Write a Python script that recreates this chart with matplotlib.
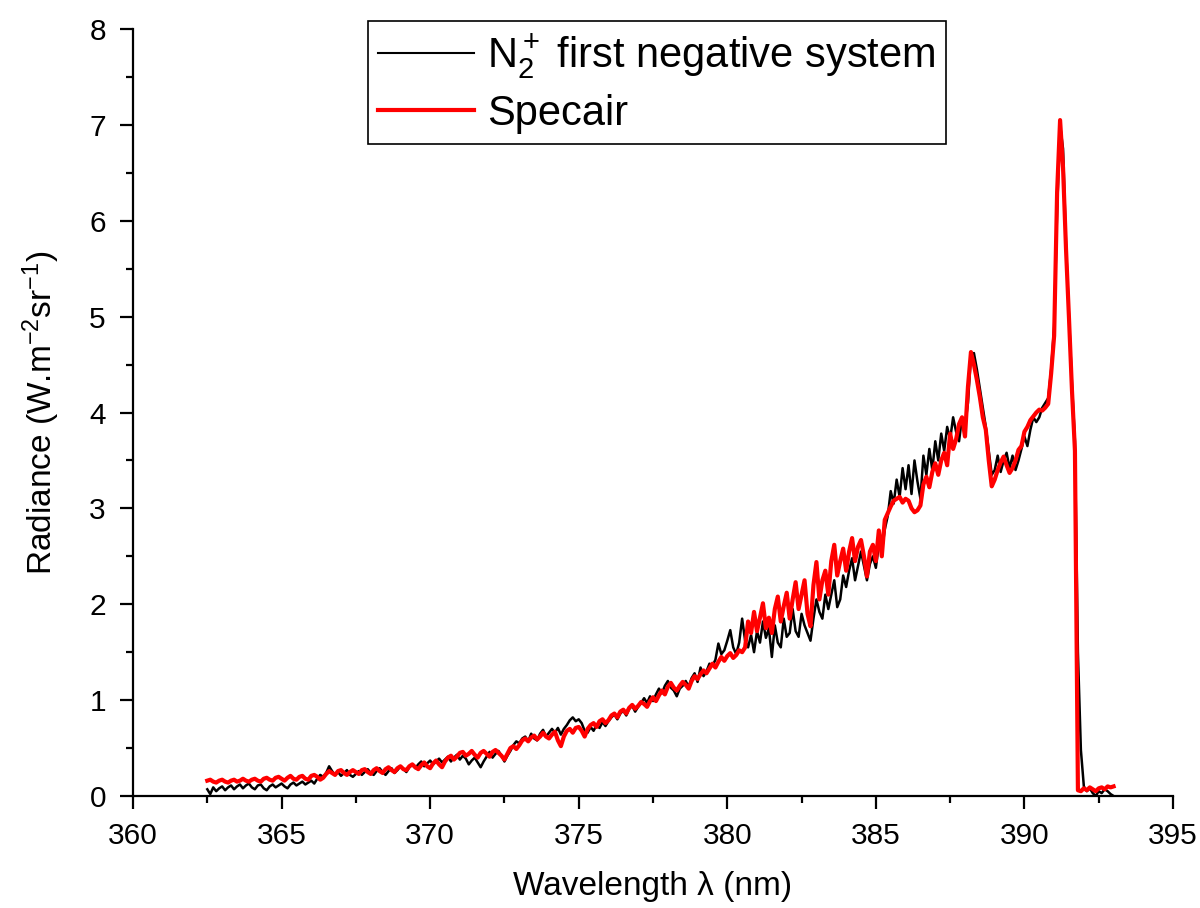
#!/usr/bin/env python3
import numpy as np
import matplotlib
matplotlib.use("Agg")
import matplotlib.pyplot as plt
from matplotlib.ticker import MultipleLocator

plt.rcParams['font.family'] = ['Liberation Sans', 'DejaVu Sans']
plt.rcParams['mathtext.fontset'] = 'custom'
plt.rcParams['mathtext.rm'] = 'Liberation Sans'
plt.rcParams['mathtext.it'] = 'Liberation Sans:italic'

# wavelength grid of both spectra (nm), 0.1 nm sampling
wavelength = np.round(np.arange(362.5, 393.05, 0.1), 1)

# measured N2+ first negative system, W.m-2.sr-1 (one row per nm, starting at x.5)
measured = [
    0.07, 0.02, 0.09, 0.05, 0.08, 0.10, 0.06, 0.09, 0.11, 0.07,
    0.10, 0.12, 0.08, 0.11, 0.13, 0.09, 0.07, 0.11, 0.12, 0.08,
    0.06, 0.10, 0.12, 0.09, 0.11, 0.13, 0.10, 0.08, 0.12, 0.14,
    0.11, 0.13, 0.15, 0.12, 0.14, 0.16, 0.13, 0.18, 0.22, 0.20,
    0.24, 0.31, 0.26, 0.22, 0.25, 0.21, 0.24, 0.27, 0.22, 0.20,
    0.23, 0.26, 0.22, 0.25, 0.28, 0.24, 0.22, 0.26, 0.29, 0.25,
    0.22, 0.26, 0.29, 0.24, 0.27, 0.31, 0.28, 0.25, 0.30, 0.33,
    0.29, 0.33, 0.36, 0.31, 0.34, 0.37, 0.33, 0.36, 0.39, 0.35,
    0.38, 0.41, 0.36, 0.40, 0.43, 0.38, 0.42, 0.39, 0.33, 0.37,
    0.40, 0.35, 0.30, 0.36, 0.41, 0.46, 0.40, 0.44, 0.47, 0.42,
    0.36, 0.42, 0.47, 0.53, 0.57, 0.55, 0.60, 0.62, 0.57, 0.65,
    0.60, 0.58, 0.65, 0.69, 0.62, 0.66, 0.70, 0.66, 0.71, 0.64,
    0.70, 0.74, 0.79, 0.82, 0.78, 0.80, 0.76, 0.68, 0.66, 0.72,
    0.68, 0.74, 0.71, 0.77, 0.73, 0.78, 0.82, 0.85, 0.80, 0.86,
    0.89, 0.84, 0.91, 0.94, 0.88, 0.93, 0.97, 1.02, 0.97, 1.04,
    0.99, 1.06, 1.12, 1.07, 1.15, 1.20, 1.13, 1.10, 1.04, 1.12,
    1.15, 1.20, 1.14, 1.23, 1.28, 1.19, 1.34, 1.25, 1.30, 1.38,
    1.36, 1.42, 1.59, 1.48, 1.52, 1.62, 1.73, 1.55, 1.48, 1.60,
    1.85, 1.62, 1.55, 1.68, 1.50, 1.72, 1.60, 1.82, 1.65, 1.75,
    1.45, 1.78, 1.60, 1.55, 1.85, 1.66, 1.70, 1.95, 1.72, 1.66,
    1.90, 1.78, 1.70, 1.62, 1.85, 2.05, 1.92, 1.85, 2.10, 1.95,
    2.10, 2.25, 1.97, 2.05, 2.30, 2.18, 2.35, 2.48, 2.25, 2.40,
    2.55, 2.40, 2.25, 2.42, 2.50, 2.38, 2.62, 2.55, 2.78, 2.92,
    3.18, 3.05, 3.30, 3.12, 3.42, 3.20, 3.45, 3.15, 3.50, 3.28,
    3.10, 3.55, 3.35, 3.62, 3.40, 3.70, 3.50, 3.78, 3.60, 3.85,
    3.72, 3.95, 3.80, 3.70, 3.95, 3.85, 4.10, 4.60, 4.62, 4.45,
    4.25, 4.05, 3.85, 3.60, 3.35, 3.40, 3.55, 3.38, 3.50, 3.58,
    3.42, 3.55, 3.40, 3.50, 3.62, 3.75, 3.65, 3.82, 3.95, 3.90,
    3.95, 4.05, 4.10, 4.15, 4.45, 4.90, 6.10, 7.00, 6.75, 5.75,
    5.00, 4.30, 3.70, 1.50, 0.48, 0.10, 0.05, 0.08, 0.03, 0.00,
    0.05, 0.03, 0.07, 0.05, 0.02, 0.00,
]

# Specair simulation
specair = [
    0.16, 0.17, 0.15, 0.14, 0.16, 0.17, 0.15, 0.14, 0.16, 0.17,
    0.15, 0.16, 0.18, 0.16, 0.15, 0.17, 0.18, 0.16, 0.15, 0.18,
    0.19, 0.17, 0.16, 0.19, 0.20, 0.18, 0.16, 0.19, 0.21, 0.18,
    0.17, 0.20, 0.21, 0.18, 0.17, 0.21, 0.22, 0.20, 0.17, 0.19,
    0.23, 0.26, 0.24, 0.22, 0.26, 0.27, 0.24, 0.22, 0.25, 0.27,
    0.25, 0.23, 0.27, 0.28, 0.25, 0.23, 0.27, 0.29, 0.26, 0.24,
    0.28, 0.30, 0.27, 0.25, 0.29, 0.31, 0.28, 0.27, 0.31, 0.33,
    0.30, 0.28, 0.32, 0.35, 0.31, 0.29, 0.34, 0.37, 0.33, 0.30,
    0.36, 0.40, 0.42, 0.38, 0.41, 0.45, 0.46, 0.42, 0.44, 0.47,
    0.43, 0.40, 0.45, 0.47, 0.44, 0.41, 0.46, 0.48, 0.45, 0.42,
    0.38, 0.44, 0.50, 0.52, 0.49, 0.53, 0.58, 0.60, 0.57, 0.61,
    0.63, 0.59, 0.62, 0.66, 0.62, 0.60, 0.64, 0.67, 0.58, 0.52,
    0.62, 0.68, 0.70, 0.66, 0.71, 0.72, 0.68, 0.62, 0.70, 0.74,
    0.76, 0.72, 0.78, 0.80, 0.76, 0.79, 0.84, 0.86, 0.82, 0.88,
    0.90, 0.86, 0.92, 0.95, 0.91, 0.94, 0.98, 0.96, 0.93, 0.99,
    1.03, 0.99, 1.05, 1.10, 1.06, 1.14, 1.18, 1.13, 1.10, 1.15,
    1.19, 1.16, 1.12, 1.20, 1.25, 1.22, 1.27, 1.31, 1.28, 1.33,
    1.38, 1.34, 1.40, 1.45, 1.41, 1.46, 1.49, 1.44, 1.47, 1.52,
    1.50, 1.55, 1.82, 1.70, 1.92, 1.72, 1.86, 2.01, 1.75, 1.86,
    1.70, 1.95, 2.08, 1.82, 1.98, 2.12, 1.85, 2.05, 2.23, 1.95,
    2.10, 2.25, 1.90, 1.77, 2.20, 2.44, 2.05, 2.25, 2.35, 2.10,
    2.45, 2.62, 2.30, 2.45, 2.58, 2.35, 2.55, 2.69, 2.45, 2.60,
    2.67, 2.50, 2.29, 2.55, 2.62, 2.45, 2.77, 2.50, 2.88, 2.95,
    3.02, 3.08, 3.10, 3.12, 3.06, 3.10, 3.08, 3.00, 2.96, 2.98,
    3.03, 3.25, 3.33, 3.22, 3.38, 3.47, 3.35, 3.50, 3.58, 3.45,
    3.78, 3.62, 3.72, 3.88, 3.95, 3.75, 4.27, 4.63, 4.50, 4.34,
    4.16, 3.95, 3.82, 3.50, 3.23, 3.30, 3.40, 3.48, 3.54, 3.45,
    3.37, 3.42, 3.50, 3.61, 3.65, 3.80, 3.85, 3.92, 3.96, 4.00,
    4.03, 4.02, 4.05, 4.09, 4.41, 4.80, 6.30, 7.05, 6.55, 5.70,
    4.98, 4.23, 3.60, 0.06, 0.05, 0.08, 0.06, 0.09, 0.07, 0.05,
    0.08, 0.09, 0.07, 0.10, 0.09, 0.10,
]

series_labels = [r'N$_2^+$ first negative system', 'Specair']

fig = plt.figure(figsize=(12, 9.08), dpi=100)
ax = fig.add_axes([133 / 1200, 1 - 796 / 908, 1040 / 1200, 767 / 908])

ax.plot(wavelength, measured, color='black', lw=1.8, label=series_labels[0], zorder=2)
ax.plot(wavelength, specair, color='#ff0000', lw=3.0, label=series_labels[1], zorder=3)

ax.set_xlim(360, 395)
ax.set_ylim(0, 8)
ax.xaxis.set_major_locator(MultipleLocator(5))
ax.xaxis.set_minor_locator(MultipleLocator(2.5))
ax.yaxis.set_major_locator(MultipleLocator(1))
ax.yaxis.set_minor_locator(MultipleLocator(0.5))

for side in ('top', 'right'):
    ax.spines[side].set_visible(False)
for side in ('left', 'bottom'):
    ax.spines[side].set_linewidth(1.6)

ax.tick_params(which='major', direction='out', length=9.5, width=1.6, labelsize=21.5)
ax.tick_params(axis='x', which='major', pad=9)
ax.tick_params(axis='y', which='major', pad=10)
ax.tick_params(which='minor', direction='out', length=5, width=1.6)

ax.set_xlabel('Wavelength λ (nm)', fontsize=24, labelpad=15)
ax.set_ylabel(r'Radiance (W.m$^{-2}$sr$^{-1}$)', fontsize=24, labelpad=20)

leg = ax.legend(loc='upper left', bbox_to_anchor=(368 / 1200, 1 - 21 / 908),
                bbox_transform=fig.transFigure, borderaxespad=0,
                fontsize=30, fancybox=False, framealpha=1, edgecolor='black',
                handlelength=2.3, handletextpad=0.3, borderpad=0.25, labelspacing=0.3)
leg.get_frame().set_linewidth(1.2)
leg.get_lines()[0].set_linewidth(1.5)

fig.savefig('out.png', dpi=100)
